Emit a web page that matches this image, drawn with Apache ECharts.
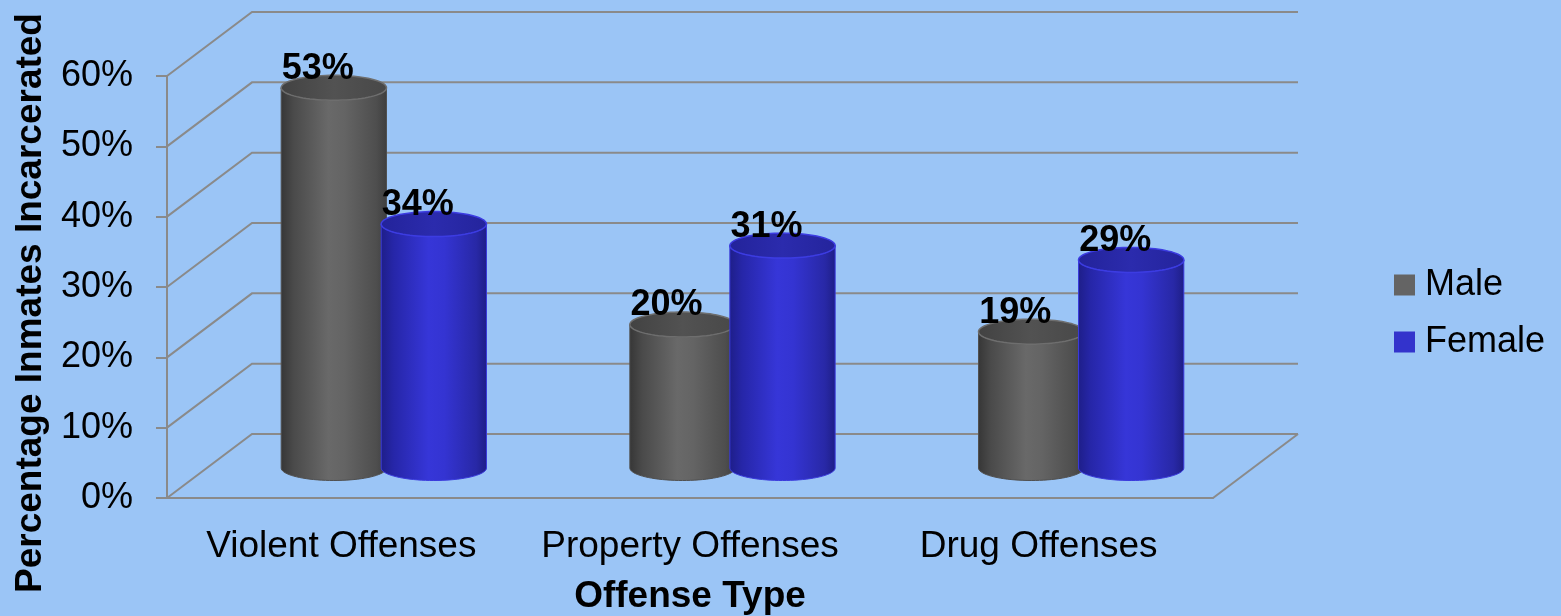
<!DOCTYPE html>
<html><head><meta charset="utf-8">
<script src="https://cdn.jsdelivr.net/npm/echarts@6/dist/echarts.min.js"></script>
<style>html,body{margin:0;padding:0;background:#9bc5f6;}#c{width:1561px;height:616px;}</style>
</head><body><div id="c"></div>
<script>
const categories = ['Violent Offenses', 'Property Offenses', 'Drug Offenses'];
const maleValues = [53, 20, 19];
const femaleValues = [34, 31, 29];
const yTicks = [0, 10, 20, 30, 40, 50, 60];
const seriesNames = ['Male', 'Female'];
const xAxisTitle = 'Offense Type';
const yAxisTitle = 'Percentage Inmates Incarcerated';

const FONT = '"Liberation Sans", Arial, Helvetica, sans-serif';
const GRID_COLOR = '#8a8a8a';
const DEPTH_X = 85, DEPTH_Y = -64;

function ellipsePts(cx, cy, rx, ry, a0, a1, n) {
  const pts = [];
  for (let k = 0; k <= n; k++) {
    const t = a0 + (a1 - a0) * k / n;
    pts.push([cx + rx * Math.cos(t), cy + ry * Math.sin(t)]);
  }
  return pts;
}

function wallRender(params, api) {
  const v = api.value(1);
  const bw = api.size([1, 0])[0];
  const pL = api.coord([0, v]);
  const pR = api.coord([categories.length - 1, v]);
  const xl = pL[0] - bw / 2, xr = pR[0] + bw / 2, y = pL[1];
  const children = [{
    type: 'polyline',
    shape: { points: [[xl, y], [xl + DEPTH_X, y + DEPTH_Y], [xr + DEPTH_X, y + DEPTH_Y]] },
    style: { stroke: GRID_COLOR, lineWidth: 2, fill: null }
  }];
  if (v === 0) {
    children.push({ type: 'line', shape: { x1: xr, y1: y, x2: xr + DEPTH_X, y2: y + DEPTH_Y },
      style: { stroke: GRID_COLOR, lineWidth: 2 } });
  }
  return { type: 'group', children };
}

function makeCylinder(side, pal) {
  return function (params, api) {
    const i = api.value(0), v = api.value(1);
    const bw = api.size([1, 0])[0];
    const p = api.coord([i, v]);
    const p0 = api.coord([i, 0]);
    const rx = bw * 0.151, ry = 12.5;
    const cx = p[0] + DEPTH_X / 2 + side * bw * 0.1434;
    const base = p0[1] + DEPTH_Y / 2 + 2;
    const top = base - (p0[1] - p[1]) * 1.02;
    const body = [[cx - rx, top], [cx - rx, base]]
      .concat(ellipsePts(cx, base, rx, ry, Math.PI, 0, 40))
      .concat([[cx + rx, top]])
      .concat(ellipsePts(cx, top, rx, ry, 0, Math.PI, 40));
    const grad = (stops) => ({ type: 'linear', x: 0, y: 0, x2: 1, y2: 0,
      colorStops: stops.map(s => ({ offset: s[0], color: s[1] })) });
    return {
      type: 'group',
      children: [
        { type: 'polygon', shape: { points: body },
          style: { fill: grad(pal.body), stroke: pal.edge, lineWidth: 1 } },
        { type: 'polygon', shape: { points: ellipsePts(cx, top, rx, ry, 0, Math.PI * 2, 80) },
          style: { fill: grad(pal.top), stroke: pal.rim, lineWidth: 1.5 } },
        { type: 'text', x: cx - 16, y: top - 19,
          style: { text: v + '%', font: 'bold 36px ' + FONT, fill: '#000',
            align: 'center', verticalAlign: 'middle', textAlign: 'center', textVerticalAlign: 'middle' } }
      ]
    };
  };
}

const malePal = {
  body: [[0, '#363636'], [0.12, '#4a4a4a'], [0.45, '#696969'], [0.6, '#646464'], [0.9, '#4e4e4e'], [1, '#3e3e3e']],
  top: [[0, '#424242'], [0.5, '#525252'], [1, '#484848']],
  rim: '#6e6e6e', edge: '#505050'
};
const femalePal = {
  body: [[0, '#1e1e88'], [0.12, '#2626a8'], [0.45, '#3636d8'], [0.6, '#3434d2'], [0.9, '#2828a6'], [1, '#1e1e86']],
  top: [[0, '#23239a'], [0.5, '#2b2bad'], [1, '#24249c']],
  rim: '#3c3ce2', edge: '#3a3adc'
};

const chart = echarts.init(document.getElementById('c'), null, { renderer: 'canvas' });
chart.setOption({
  backgroundColor: '#9bc5f6',
  animation: false,
  textStyle: { fontFamily: FONT },
  grid: { left: 167, right: 348, top: 76, bottom: 118, containLabel: false, outerBoundsMode: 'none' },
  legend: {
    data: seriesNames, orient: 'vertical', left: 1394, top: 265, padding: 0,
    icon: 'rect', itemWidth: 21, itemHeight: 21, itemGap: 17,
    textStyle: { fontSize: 36, color: '#000', fontFamily: FONT, lineHeight: 40, padding: [0, 0, 0, 5] }
  },
  xAxis: {
    type: 'category', data: categories,
    axisLine: { show: true, lineStyle: { color: GRID_COLOR, width: 2 } },
    axisTick: { show: false },
    axisLabel: { interval: 0, fontSize: 37, color: '#000', margin: 30, fontFamily: FONT },
    splitLine: { show: false },
    name: xAxisTitle, nameLocation: 'middle', nameGap: 80,
    nameTextStyle: { fontSize: 37, fontWeight: 'bold', color: '#000', fontFamily: FONT }
  },
  yAxis: {
    type: 'value', min: yTicks[0], max: yTicks[yTicks.length - 1], interval: 10,
    axisLine: { show: true, lineStyle: { color: GRID_COLOR, width: 2 } },
    axisTick: { show: true, length: 11, lineStyle: { color: GRID_COLOR, width: 2 } },
    axisLabel: { fontSize: 36, color: '#000', margin: 34, formatter: '{value}%', fontFamily: FONT },
    splitLine: { show: false },
    name: yAxisTitle, nameLocation: 'middle', nameGap: 118,
    nameTextStyle: { fontSize: 37, fontWeight: 'bold', color: '#000', fontFamily: FONT, padding: [0, 32, 0, 0] }
  },
  series: [
    { type: 'custom', name: 'walls', silent: true, renderItem: wallRender,
      data: yTicks.map(v => [0, v]), z: 1 },
    { type: 'custom', name: seriesNames[0], renderItem: makeCylinder(-1, malePal),
      itemStyle: { color: '#646464' }, data: maleValues.map((v, i) => [i, v]), z: 2 },
    { type: 'custom', name: seriesNames[1], renderItem: makeCylinder(1, femalePal),
      itemStyle: { color: '#3333cc' }, data: femaleValues.map((v, i) => [i, v]), z: 3 }
  ]
});
</script></body></html>
